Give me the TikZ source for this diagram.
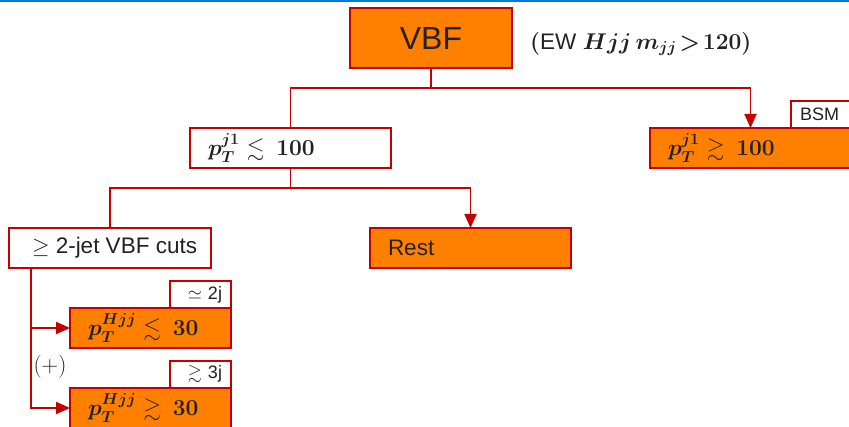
\RequirePackage{fix-cm}
\documentclass[tikz,border=0pt]{standalone}
\usepackage{amsmath,amssymb}
\usepackage[no-math]{fontspec}
\setmainfont{Liberation Sans}
\usetikzlibrary{arrows.meta,positioning}

\definecolor{boxred}{RGB}{196,0,0}
\definecolor{boxorange}{RGB}{255,128,0}
\definecolor{rulerblue}{RGB}{0,122,222}
\definecolor{ink}{RGB}{34,34,34}

\newcommand{\txt}{\fontsize{22.5}{26}\selectfont}
\newcommand{\mtxt}{\fontsize{22.8}{26}\selectfont}
\newcommand{\tagtxt}{\fontsize{18}{21}\selectfont}

\tikzset{
  box/.style={draw=boxred, line width=2.4pt, anchor=north west, outer sep=0pt,
    minimum height=40pt, inner xsep=18pt, inner ysep=0pt, align=left,
    font=\mtxt\boldmath, text=ink},
  whitebox/.style={box, fill=white},
  orangebox/.style={box, fill=boxorange},
  tagbox/.style={draw=boxred, line width=2.4pt, fill=white, anchor=north west,
    outer sep=0pt, minimum height=27pt, inner ysep=0pt, font=\tagtxt, text=ink},
  conn/.style={draw=boxred, line width=1.8pt},
  arr/.style={conn, -{Triangle[length=14pt,width=12pt]}},
}

\begin{document}
\begin{tikzpicture}[x=1pt,y=-1pt]
  \useasboundingbox (0,0) rectangle (849,427);
  \fill[rulerblue] (0,0) rectangle (849,2);

  % top level
  \node[draw=boxred, line width=2.4pt, fill=boxorange, minimum width=162pt,
        minimum height=60pt, outer sep=0pt, font=\fontsize{32}{36}\selectfont, text=ink]
        (vbf) at (431,38) {VBF};
  \node[anchor=west, font=\mtxt\boldmath, text=ink, inner sep=0pt]
        (ew) at (530,44) {$(${\txt EW} $Hjj\,m_{jj}\!>\!120)$};

  % second level
  \node[whitebox, text width=165pt] (j1low) at (190,128)
        {$p_T^{j1}\lesssim\,100$};
  \node[tagbox, minimum width=70pt, text width=52pt, inner xsep=9pt, align=left]
        (bsm) at (791,101) {BSM};
  \node[orangebox, text width=165pt] (j1high) at (650,128)
        {$p_T^{j1}\gtrsim\,100$};

  % third level
  \node[whitebox, inner xsep=9pt, font=\txt] (cuts) at (9,228)
        {\makebox[184pt][l]{\hspace{14pt}$\geq$ 2-jet VBF cuts}};
  \node[orangebox, text width=165pt, font=\txt] (rest) at (370,228) {Rest};

  % jet-multiplicity bins
  \node[tagbox, minimum width=61pt, text width=43pt, inner xsep=9pt, align=right]
        (tagtwo) at (170,281) {$\simeq$ 2j};
  \node[orangebox, text width=125pt] (low30) at (70,308)
        {$p_T^{Hjj}\lesssim\,30$};
  \node[tagbox, minimum width=61pt, text width=43pt, inner xsep=9pt, align=right]
        (tagthree) at (170,361) {$\gtrsim$ 3j};
  \node[orangebox, text width=125pt] (high30) at (70,388)
        {$p_T^{Hjj}\gtrsim\,30$};
  \node[font=\fontsize{23}{27}\selectfont, text=ink, inner sep=0pt] (plus) at (50,367) {$(+)$};

  % connectors
  \coordinate (split1) at (431,88);
  \coordinate (split2) at (290.5,188);
  \draw[conn] (vbf.south) -- (split1);
  \draw[conn] (split1) -| (j1low.north);
  \draw[arr] (split1) -| (j1high.north);
  \draw[conn] (j1low.south) -- (split2);
  \draw[conn] (split2) -| (cuts.north);
  \draw[arr] (split2) -| (rest.north);
  \coordinate (trunk) at ([xshift=22pt]cuts.south west);
  \draw[arr] (trunk) |- (low30.west);
  \draw[arr] (trunk) |- (high30.west);
\end{tikzpicture}
\end{document}
